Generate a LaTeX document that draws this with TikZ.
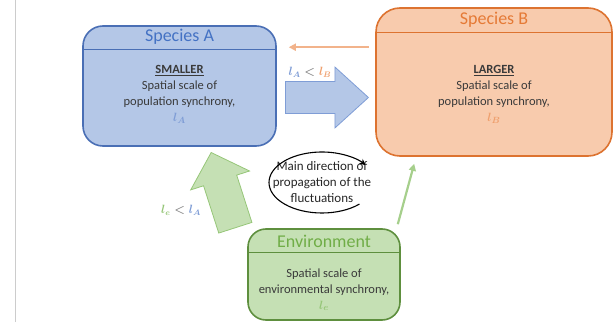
\documentclass[tikz,border=0pt]{standalone}
\usepackage{fontspec}
\setmainfont{Carlito}
\usetikzlibrary{positioning,arrows.meta,calc,shapes.arrows}
\definecolor{spAfill}{HTML}{B4C7E7}
\definecolor{spAline}{HTML}{4A6FB5}
\definecolor{spAtxt}{HTML}{4472C4}
\definecolor{spBfill}{HTML}{F8CBAD}
\definecolor{spBline}{HTML}{DD7330}
\definecolor{spBtxt}{HTML}{E57A36}
\definecolor{envfill}{HTML}{C5E0B4}
\definecolor{envline}{HTML}{5E8F3E}
\definecolor{envtxt}{HTML}{70AD47}
\definecolor{bodytxt}{HTML}{3A3A3A}
\definecolor{lA}{HTML}{7F9DD6}
\definecolor{lB}{HTML}{EFA06E}
\definecolor{le}{HTML}{96C678}
\definecolor{ltgray}{HTML}{7F7F7F}
\tikzset{
  box/.style={draw, line width=1.6pt, inner sep=0pt},
  boxA/.style={box, draw=spAline, fill=spAfill, rounded corners=20pt,
               minimum width=193pt, minimum height=120pt},
  boxB/.style={box, draw=spBline, fill=spBfill, rounded corners=24pt,
               minimum width=236pt, minimum height=148pt},
  boxE/.style={box, draw=envline, fill=envfill, rounded corners=18pt,
               minimum width=152pt, minimum height=91pt},
  ttl/.style={font=\fontsize{18}{20}\selectfont},
  body/.style={font=\fontsize{12.5}{16}\selectfont, align=center, text=bodytxt},
  lbl/.style={font=\fontsize{12}{14}\selectfont\boldmath, inner sep=1pt},
  bigarrow/.style={single arrow, single arrow head indent=0pt, inner xsep=0pt,
                   line width=0.8pt},
  thinarrow/.style={-{Triangle[length=7pt,width=7pt]}, line width=2pt},
  looparrow/.style={-{Stealth[length=6pt,width=6pt]}, line width=1.1pt, black}
}
\begin{document}
\begin{tikzpicture}[x=1pt,y=1pt]
\useasboundingbox (0,0) rectangle (616,322);
\draw[black!20, line width=1.5pt] (15.5,0) -- (15.5,322);
% species A
\node[boxA] (spA) at (179.5,236) {};
\node[ttl, text=spAtxt] (spAt) at ($(spA.north)+(0,-12)$) {Species A};
\draw[spAline, line width=1pt] ($(spA.north west)+(0,-24)$) -- ($(spA.north east)+(0,-24)$);
\node[body] (spAb) at ($(spA.north)+(0,-69)$)
  {\underline{\textbf{SMALLER}}\\ Spatial scale of\\ population synchrony,\\ \textcolor{lA}{\boldmath$l_A$}};
% species B
\node[boxB] (spB) at (494,240) {};
\node[ttl, text=spBtxt] (spBt) at ($(spB.north)+(0,-13)$) {Species B};
\draw[spBline, line width=1pt] ($(spB.north west)+(0,-25)$) -- ($(spB.north east)+(0,-25)$);
\node[body] (spBb) at ($(spB.north)+(0,-87)$)
  {\underline{\textbf{LARGER}}\\ Spatial scale of\\ population synchrony,\\ \textcolor{lB}{\boldmath$l_B$}};
% environment
\node[boxE] (env) at (324,47.5) {};
\node[ttl, text=envtxt] (envt) at ($(env.north)+(0,-13)$) {Environment};
\draw[envline, line width=1pt] ($(env.north west)+(0,-24)$) -- ($(env.north east)+(0,-24)$);
\node[body] (envb) at ($(env.north)+(0,-61.5)$)
  {Spatial scale of\\ environmental synchrony,\\ \textcolor{le}{\boldmath$l_e$}};
% arrows
\draw[thinarrow, lB!80] ([shift={(-6,-40)}]spB.north west) -- ([shift={(12,-22)}]spA.north east);
\node[bigarrow, draw=lA, fill=spAfill, minimum height=83pt, inner ysep=15.5pt,
      single arrow head extend=14.5pt, single arrow tip angle=84.6, anchor=tail] (flowAB) at (285,224.5) {};
\node[lbl] (ratioAB) at (310,250) {$\color{lA}l_A \color{ltgray}< \color{lB}l_B$};
\node[bigarrow, draw=le, fill=envfill, minimum height=79pt, inner ysep=17pt,
      single arrow head extend=13.5pt, single arrow tip angle=93, rotate=107.8, anchor=tip] (flowEA) at (211,170) {};
\node[lbl] (ratioEA) at (181,112) {$\color{le}l_e \color{ltgray}< \color{lA}l_A$};
\draw[thinarrow, le!85, line width=2.2pt] ([shift={(-3,4)}]env.north east) -- ([shift={(39,-7)}]spB.south west);
% propagation loop
\node[body, text=black!85, font=\fontsize{13}{16}\selectfont] (prop) at (322,139.5)
  {Main direction of\\ propagation of the\\ fluctuations};
\draw[looparrow] ($(prop.center)+(-45:53pt and 30.5pt)$)
  arc[start angle=-45, end angle=-325, x radius=53pt, y radius=30.5pt];
\end{tikzpicture}
\end{document}
